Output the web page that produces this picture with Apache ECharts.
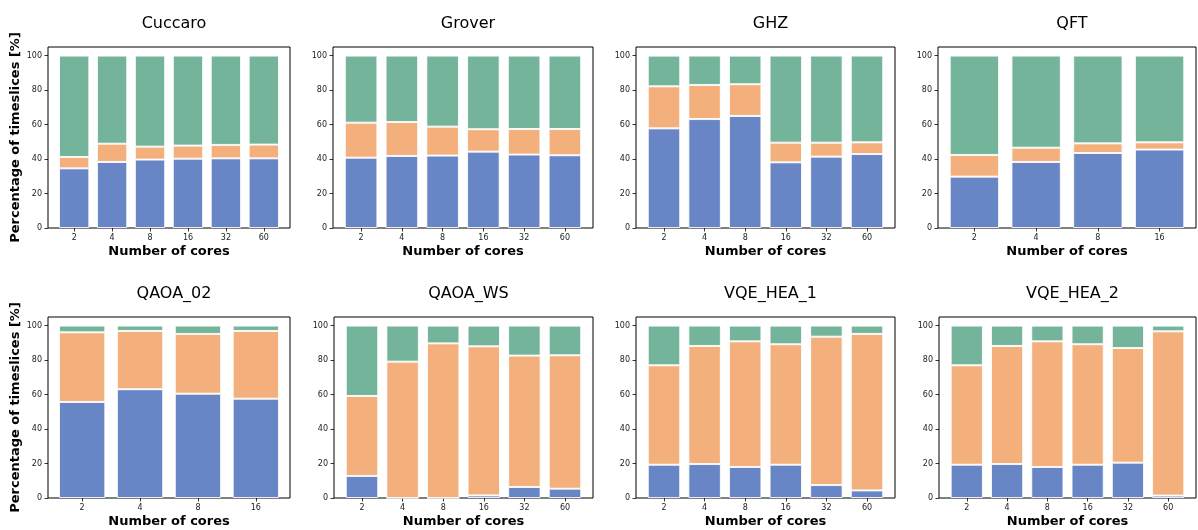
<!DOCTYPE html>
<html>
<head>
<meta charset="utf-8">
<script src="https://cdn.jsdelivr.net/npm/echarts@6/dist/echarts.min.js"></script>
<style>
html,body{margin:0;padding:0;background:#fff;}
#chart{width:1198px;height:530px;}
</style>
</head>
<body>
<div id="chart"></div>
<script>
// ---- data ----
const cores6 = ['2', '4', '8', '16', '32', '60'];
const cores4 = ['2', '4', '8', '16'];
const yTicks = [0, 20, 40, 60, 80, 100];
const titles = ['Cuccaro', 'Grover', 'GHZ', 'QFT', 'QAOA_02', 'QAOA_WS', 'VQE_HEA_1', 'VQE_HEA_2'];

const cuccaroBlue   = [34.6, 38.3, 39.7, 40.2, 40.4, 40.4];
const cuccaroOrange = [6.6, 10.6, 7.5, 7.6, 7.8, 8.0];
const cuccaroGreen  = [58.8, 51.1, 52.8, 52.2, 51.8, 51.6];

const groverBlue   = [40.8, 41.8, 42.0, 44.3, 42.6, 42.2];
const groverOrange = [20.3, 19.7, 16.8, 13.0, 14.8, 15.2];
const groverGreen  = [38.9, 38.5, 41.2, 42.7, 42.6, 42.6];

const ghzBlue   = [57.8, 63.2, 65.0, 38.1, 41.4, 42.9];
const ghzOrange = [24.4, 19.8, 18.4, 11.4, 8.1, 6.8];
const ghzGreen  = [17.8, 17.0, 16.6, 50.5, 50.5, 50.3];

const qftBlue   = [29.8, 38.3, 43.5, 45.5];
const qftOrange = [12.6, 8.3, 5.6, 4.2];
const qftGreen  = [57.6, 53.4, 50.9, 50.3];

const qaoa02Blue   = [55.7, 63.1, 60.5, 57.6];
const qaoa02Orange = [40.4, 33.8, 34.7, 39.3];
const qaoa02Green  = [3.9, 3.1, 4.8, 3.1];

const qaoaWsBlue   = [12.8, 0, 0, 1.5, 6.4, 5.4];
const qaoaWsOrange = [46.4, 79.1, 89.7, 86.5, 76.2, 77.4];
const qaoaWsGreen  = [40.8, 20.9, 10.3, 12.0, 17.4, 17.2];

const vqe1Blue   = [19.3, 19.7, 18.0, 19.3, 7.5, 4.4];
const vqe1Orange = [57.7, 68.5, 72.9, 69.9, 86.1, 90.8];
const vqe1Green  = [23.0, 11.8, 9.1, 10.8, 6.4, 4.8];

const vqe2Blue   = [19.3, 19.7, 18.0, 19.3, 20.5, 1.4];
const vqe2Orange = [57.7, 68.5, 72.9, 69.9, 66.5, 95.3];
const vqe2Green  = [23.0, 11.8, 9.1, 10.8, 13.0, 3.3];

// ---- assembly ----
const panels = [
  {cats: cores6, s: [cuccaroBlue, cuccaroOrange, cuccaroGreen]},
  {cats: cores6, s: [groverBlue, groverOrange, groverGreen]},
  {cats: cores6, s: [ghzBlue, ghzOrange, ghzGreen]},
  {cats: cores4, s: [qftBlue, qftOrange, qftGreen]},
  {cats: cores4, s: [qaoa02Blue, qaoa02Orange, qaoa02Green]},
  {cats: cores6, s: [qaoaWsBlue, qaoaWsOrange, qaoaWsGreen]},
  {cats: cores6, s: [vqe1Blue, vqe1Orange, vqe1Green]},
  {cats: cores6, s: [vqe2Blue, vqe2Orange, vqe2Green]}
];

// layout (frame boxes)
const frames = [
  {l: 48, r: 290, t: 47, b: 228}, {l: 333, r: 593, t: 47, b: 228},
  {l: 636, r: 895, t: 47, b: 228}, {l: 938, r: 1196, t: 47, b: 228},
  {l: 48, r: 290, t: 317, b: 498}, {l: 334, r: 593, t: 317, b: 498},
  {l: 636, r: 895, t: 317, b: 498}, {l: 939, r: 1196, t: 317, b: 498}
];
const colors = ['#6886c5', '#f3b07c', '#74b49a'];
const segNames = ['Segment 1', 'Segment 2', 'Segment 3'];
const FONT = 'DejaVu Sans';

const grid = [], xAxis = [], yAxis = [], series = [], title = [];
panels.forEach((p, i) => {
  const f = frames[i];
  const W = f.r - f.l, H = f.b - f.t;
  const n = p.cats.length;
  const u = W / ((n - 0.2) * 1.1);
  const off = (W - n * u) / 2;
  grid.push({left: f.l, top: f.t, width: W, height: H, show: true,
    borderColor: '#000', borderWidth: 1, backgroundColor: 'transparent', containLabel: false});
  grid.push({left: f.l + off, top: f.t, width: W - 2 * off, height: H, containLabel: false});
  xAxis.push({gridIndex: 2 * i, type: 'value', min: 0, max: 1, show: false});
  xAxis.push({gridIndex: 2 * i + 1, type: 'category', data: p.cats,
    axisLine: {show: false},
    axisTick: {show: true, alignWithLabel: true, length: 3.5, lineStyle: {color: '#000', width: 0.8}},
    axisLabel: {fontSize: 8, color: '#222', margin: 6, fontFamily: FONT},
    name: 'Number of cores', nameLocation: 'middle', nameGap: 17,
    nameTextStyle: {fontSize: 13, fontWeight: 'bold', color: '#000', fontFamily: FONT}
  });
  const yFrame = {gridIndex: 2 * i, type: 'value', min: 0, max: 105,
    axisLine: {show: false},
    axisTick: {show: true, length: 3.5, customValues: yTicks, lineStyle: {color: '#000', width: 0.8}},
    axisLabel: {fontSize: 8, color: '#222', margin: 6, customValues: yTicks, fontFamily: FONT},
    splitLine: {show: false}
  };
  if (i % 4 === 0) {
    yFrame.name = 'Percentage of timeslices [%]';
    yFrame.nameLocation = 'middle';
    yFrame.nameGap = 26;
    yFrame.nameRotate = 90;
    yFrame.nameTextStyle = {fontSize: 13, fontWeight: 'bold', color: '#000', fontFamily: FONT};
  }
  yAxis.push(yFrame);
  yAxis.push({gridIndex: 2 * i + 1, type: 'value', min: 0, max: 105, show: false});
  p.s.forEach((vals, k) => {
    series.push({type: 'bar', name: segNames[k], stack: 'p' + i,
      xAxisIndex: 2 * i + 1, yAxisIndex: 2 * i + 1, data: vals,
      barWidth: '80%', itemStyle: {color: colors[k], borderColor: 'rgba(255,255,255,0.85)', borderWidth: 1},
      silent: true, animation: false});
  });
  title.push({text: titles[i], left: (f.l + f.r) / 2, top: f.t - 36, textAlign: 'center',
    textStyle: {fontSize: 16, fontWeight: 'normal', color: '#000', fontFamily: FONT}});
});

const chart = echarts.init(document.getElementById('chart'), null, {renderer: 'canvas'});
chart.setOption({backgroundColor: '#fff', animation: false, title, grid, xAxis, yAxis, series});
</script>
</body>
</html>
